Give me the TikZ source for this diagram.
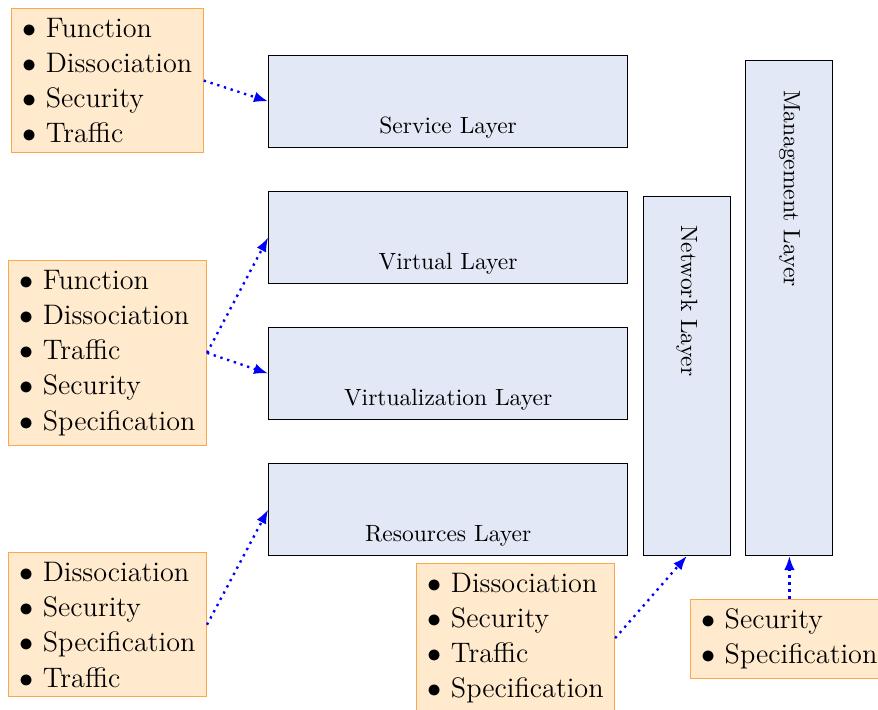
\documentclass[tikz,border=0pt]{standalone}
\usepackage{tikz}
\usetikzlibrary{arrows.meta, positioning}
\definecolor{layerblue}{RGB}{226,232,245}
\definecolor{aspectfill}{RGB}{255,234,205}
\definecolor{aspectdraw}{RGB}{250,168,75}

\begin{document}
\begin{tikzpicture}
    \tikzstyle{layer} = [
        rectangle, draw, fill=layerblue,
        minimum width=5.37cm, minimum height=1.375cm
    ]

    \tikzstyle{side_layer} = [
        rectangle, draw, fill=layerblue, minimum width=1.3cm
    ]

    \tikzstyle{layer_label} = [anchor=base, inner sep=0pt]

    \tikzstyle{side_label} = [rotate=-90, anchor=west, inner sep=0pt]

    \tikzstyle{aspects} = [
        rectangle, draw=aspectdraw, fill=aspectfill, align=left,
        inner xsep=4.7pt, inner ysep=4pt, anchor=north west, font=\large
    ]

    \tikzstyle{link} = [
        blue, dotted, line width=1pt, -{Latex[length=6pt, width=4.5pt]}
    ]

    \useasboundingbox (0,0) rectangle (13.13,-10.61);

    % Stacked layers
    \node[layer, anchor=north west] (service) at (4.01,-0.823) {};
    \node[layer, below=0.645cm of service] (virtual) {};
    \node[layer, below=0.645cm of virtual] (virtualization) {};
    \node[layer, below=0.645cm of virtualization] (resources) {};

    \node[layer_label] (service_label) at ([yshift=0.21cm]service.south) {Service Layer};
    \node[layer_label] (virtual_label) at ([yshift=0.21cm]virtual.south) {Virtual Layer};
    \node[layer_label] (virtualization_label) at ([yshift=0.21cm]virtualization.south) {Virtualization Layer};
    \node[layer_label] (resources_label) at ([yshift=0.21cm]resources.south) {Resources Layer};

    % Side layers
    \node[side_layer, minimum height=5.37cm, anchor=south west] (network)
        at ([xshift=0.22cm]resources.south east) {};
    \node[side_layer, minimum height=7.41cm, anchor=south west] (management)
        at ([xshift=0.22cm]network.south east) {};

    \node[side_label] (network_label) at ([yshift=-0.43cm]network.north) {Network Layer};
    \node[side_label] (management_label) at ([yshift=-0.45cm]management.north) {Management Layer};

    % Aspect lists
    \node[aspects] (service_aspects) at (0.164,-0.12) {
        $\bullet$ Function\\[1pt] $\bullet$ Dissociation\\[1pt]
        $\bullet$ Security\\[1pt] $\bullet$ Traffic
    };
    \node[aspects] (virtual_aspects) at (0.12,-3.89) {
        $\bullet$ Function\\[1pt] $\bullet$ Dissociation\\[1pt]
        $\bullet$ Traffic\\[1pt] $\bullet$ Security\\[1pt]
        $\bullet$ Specification
    };
    \node[aspects] (resources_aspects) at (0.12,-8.258) {
        $\bullet$ Dissociation\\[1pt] $\bullet$ Security\\[1pt]
        $\bullet$ Specification\\[1pt] $\bullet$ Traffic
    };
    \node[aspects] (network_aspects) at (6.223,-8.42) {
        $\bullet$ Dissociation\\[1pt] $\bullet$ Security\\[1pt]
        $\bullet$ Traffic\\[1pt] $\bullet$ Specification
    };
    \node[aspects, anchor=north] (management_aspects)
        at ([yshift=-0.64cm]management.south) {
        $\bullet$ Security\\[1pt] $\bullet$ Specification
    };

    % Links
    \draw[link] (service_aspects.east) -- (service.west);
    \draw[link] (virtual_aspects.east) -- (virtual.west);
    \draw[link] (virtual_aspects.east) -- (virtualization.west);
    \draw[link] (resources_aspects.east) -- (resources.west);
    \draw[link] (network_aspects.east) -- (network.south);
    \draw[link] (management_aspects.north) -- (management.south);

\end{tikzpicture}
\end{document}
